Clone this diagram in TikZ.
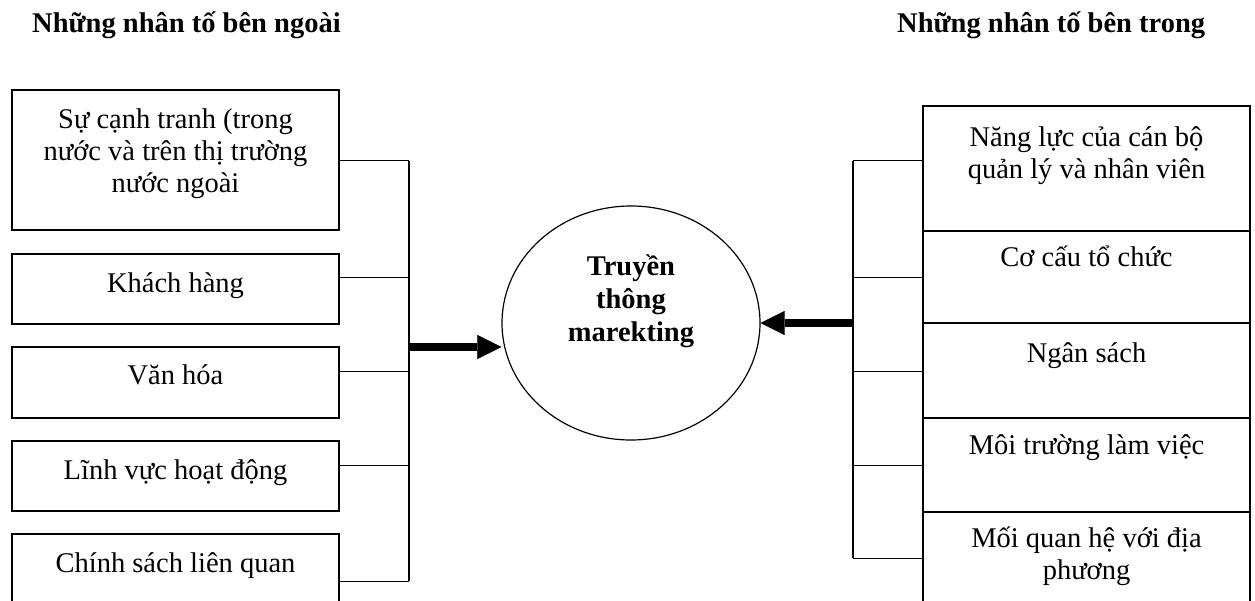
\documentclass[tikz,border=0pt]{standalone}
\usepackage{fontspec}
\setmainfont{Liberation Serif}
\usetikzlibrary{arrows.meta,shapes.geometric}
\newcommand\myst{\rule{0pt}{28pt}}
\begin{document}
\begin{tikzpicture}[x=1pt,y=-1pt,
  box/.style={draw, line width=1.2pt, rectangle, inner sep=0pt, minimum width=327pt},
  rbox/.style={draw, line width=1.2pt, rectangle, inner sep=0pt, minimum width=327pt},
  lbl/.style={font=\fontsize{28.5}{32}\selectfont, align=center, inner sep=0pt, anchor=north},
  clbl/.style={font=\fontsize{28.5}{33.3}\selectfont\bfseries, align=center, inner sep=0pt, anchor=north},
  ttl/.style={font=\fontsize{28.5}{32}\selectfont\bfseries, inner sep=0pt, anchor=base west},
  conn/.style={line width=1pt},
  bus/.style={line width=1.3pt},
  bigarrow/.style={line width=8pt, -{Triangle[length=24pt,width=24pt,line width=0.1pt]}}
]
\useasboundingbox (0,0) rectangle (1255,601);
\clip (0,0) rectangle (1255,601);

% titles
\node[ttl] (tl) at (32,33) {Những nhân tố bên ngoài};
\node[ttl] (tr) at (897,33) {Những nhân tố bên trong};

% left boxes
\node[box, minimum height=140pt] (l1) at (175.5,160) {};
\node[box, minimum height=70pt] (l2) at (175.5,289) {};
\node[box, minimum height=71pt] (l3) at (175.5,382.5) {};
\node[box, minimum height=70pt] (l4) at (175.5,476) {};
\node[box, minimum height=120pt] (l5) at (175.5,594) {};

\node[lbl] (lt1) at (175.5,100) {\myst Sự cạnh tranh (trong\\nước và trên thị trường\\nước ngoài};
\node[lbl] (lt2) at (175.5,264) {\myst Khách hàng};
\node[lbl] (lt3) at (175.5,356) {\myst Văn hóa};
\node[lbl] (lt4) at (175.5,451) {\myst Lĩnh vực hoạt động};
\node[lbl] (lt5) at (175.5,544) {\myst Chính sách liên quan};

% right boxes
\node[rbox, minimum height=125pt] (r1) at (1086.5,168.5) {};
\node[rbox, minimum height=92pt] (r2) at (1086.5,277) {};
\node[rbox, minimum height=95pt] (r3) at (1086.5,370.5) {};
\node[rbox, minimum height=94pt] (r4) at (1086.5,465) {};
\node[rbox, minimum height=120pt] (r5) at (1086.5,572) {};

\node[lbl] (rt1) at (1086.5,118) {\myst Năng lực của cán bộ\\quản lý và nhân viên};
\node[lbl] (rt2) at (1086.5,238) {\myst Cơ cấu tổ chức};
\node[lbl] (rt3) at (1086.5,334) {\myst Ngân sách};
\node[lbl] (rt4) at (1086.5,426) {\myst Môi trường làm việc};
\node[lbl] (rt5) at (1086.5,519) {\myst Mối quan hệ với địa\\phương};

% centre ellipse
\node[draw, ellipse, line width=1.2pt, inner sep=0pt, minimum width=258pt, minimum height=234pt] (c) at (631,323) {};
\node[clbl] (ct) at (631,247) {\myst Truyền\\thông\\marekting};

% left bus
\coordinate (lb1) at (409,161);
\coordinate (lb2) at (409,278);
\coordinate (lb3) at (409,371);
\coordinate (lb4) at (409,465);
\coordinate (lb5) at (409,581);
\coordinate (lj) at (409,347);
\draw[conn] (lb1 -| l1.east) -- (lb1);
\draw[conn] (lb2 -| l2.east) -- (lb2);
\draw[conn] (lb3 -| l3.east) -- (lb3);
\draw[conn] (lb4 -| l4.east) -- (lb4);
\draw[conn] (lb5 -| l5.east) -- (lb5);
\draw[bus] (lb1) -- (lb5);
\draw[bigarrow] (lj) -- (lj -| c.west);

% right bus
\coordinate (rb1) at (853,161);
\coordinate (rb2) at (853,278);
\coordinate (rb3) at (853,371);
\coordinate (rb4) at (853,465);
\coordinate (rb5) at (853,558);
\coordinate (rj) at (853,323);
\draw[conn] (rb1 -| r1.west) -- (rb1);
\draw[conn] (rb2 -| r2.west) -- (rb2);
\draw[conn] (rb3 -| r3.west) -- (rb3);
\draw[conn] (rb4 -| r4.west) -- (rb4);
\draw[conn] (rb5 -| r5.west) -- (rb5);
\draw[bus, line width=2pt] (rb1) -- (rb5);
\draw[bigarrow] (rj) -- (c.east);
\end{tikzpicture}
\end{document}
